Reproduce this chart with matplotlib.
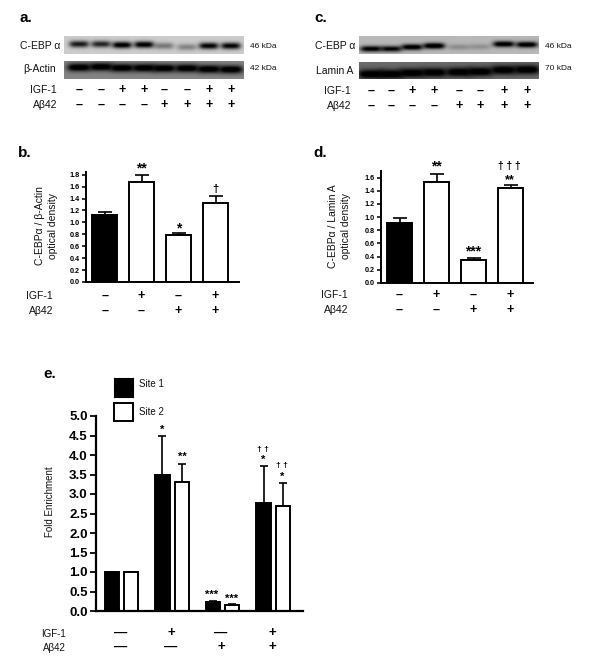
import matplotlib
matplotlib.use("Agg")
import matplotlib.pyplot as plt
import numpy as np

plt.rcParams['font.family'] = ['Liberation Sans', 'DejaVu Sans']

W = 600
H = 668

# blots: strength and height (0 top, 1 bottom) of each band
igf_lanes = ['–', '–', '+', '+', '–', '–', '+', '+']
abeta_lanes = ['–', '–', '–', '–', '+', '+', '+', '+']
a_cebp = [0.75, 0.7, 0.9, 0.9, 0.35, 0.3, 0.85, 0.85]
a_cebp_y = [0.45, 0.45, 0.5, 0.48, 0.55, 0.62, 0.55, 0.55]
a_actin = [1.0, 1.0, 1.0, 1.0, 1.0, 1.0, 1.0, 1.0]
a_actin_y = [0.35, 0.32, 0.38, 0.38, 0.4, 0.4, 0.45, 0.47]
c_cebp = [0.9, 0.85, 0.95, 1.0, 0.2, 0.18, 0.95, 0.95]
c_cebp_y = [0.72, 0.72, 0.62, 0.55, 0.62, 0.6, 0.45, 0.48]
c_lamin = [1.0, 1.0, 1.0, 1.0, 1.0, 1.0, 1.0, 1.0]
c_lamin_y = [0.72, 0.72, 0.65, 0.62, 0.6, 0.57, 0.47, 0.45]

# panel b
b_values = [1.12, 1.67, 0.78, 1.33]
b_errors = [0.055, 0.13, 0.04, 0.11]
# panel d
d_values = [0.915, 1.54, 0.345, 1.445]
d_errors = [0.07, 0.12, 0.03, 0.05]
# panel e
site1_values = [1.0, 3.49, 0.22, 2.78]
site1_errors = [0.0, 1.01, 0.03, 0.94]
site2_values = [1.0, 3.31, 0.15, 2.68]
site2_errors = [0.0, 0.47, 0.02, 0.61]

igf_groups = ['–', '+', '–', '+']
abeta_groups = ['–', '–', '+', '+']

fig = plt.figure(figsize=(W / 100, H / 100), dpi=100)


def px_axes(x0, x1, y_top, y_bottom):
    return fig.add_axes([x0 / W, 1 - y_bottom / H, (x1 - x0) / W, (y_bottom - y_top) / H])


def px_text(x, y, s, size=7, weight='normal', ha='center', rotation=0, color='#111111'):
    fig.text(x / W, 1 - y / H, s, fontsize=size, fontweight=weight, ha=ha, va='center',
             rotation=rotation, color=color, multialignment='center', linespacing=1.3)


def draw_blot(x0, x1, y_top, y_bottom, centers, strengths, heights, back, band_h, band_w):
    ax = px_axes(x0, x1, y_top, y_bottom)
    nx = int(x1 - x0) * 2
    ny = int(y_bottom - y_top) * 2
    xx, yy = np.meshgrid(np.linspace(x0, x1, nx), np.linspace(0, 1, ny))
    img = np.full((ny, nx), back, dtype=float)
    for c, s, h in zip(centers, strengths, heights):
        band = s * np.exp(-((xx - c) / band_w) ** 4 - ((yy - h) / band_h) ** 2)
        img = img * (1 - np.clip(band * 1.2, 0, 1))
    ax.imshow(img, cmap='gray', vmin=0, vmax=1, aspect='auto', interpolation='bilinear')
    ax.axis('off')


def draw_signs(centers, y1, y2, igf, abeta, size=9):
    for c, a, b in zip(centers, igf, abeta):
        px_text(c, y1, a, size=size, weight='bold', color='black')
        px_text(c, y2, b, size=size, weight='bold', color='black')


def style_axes(ax, ticks, fmt_size, lw=1.4):
    for side in ['top', 'right']:
        ax.spines[side].set_visible(False)
    ax.spines['left'].set_linewidth(lw)
    ax.spines['bottom'].set_linewidth(lw)
    ax.set_yticks(ticks)
    ax.set_yticklabels(['%.1f' % t for t in ticks], fontsize=fmt_size, fontweight='bold')
    ax.set_xticks([])
    ax.tick_params(axis='y', width=lw * 0.8, length=3, pad=1.5)
    ax.patch.set_alpha(0)


def draw_bars(box, ylim, ticks, xlim, values, errors):
    ax = px_axes(*box)
    x = np.arange(len(values))
    colors = ['black', 'white', 'white', 'white']
    ax.bar(x, values, width=0.68, color=colors, edgecolor='black', linewidth=1.4, zorder=2)
    ax.errorbar(x, values, yerr=[np.zeros(len(values)), errors], fmt='none', ecolor='black',
                elinewidth=1.2, capsize=5, capthick=1.2, zorder=1)
    ax.set_xlim(*xlim)
    ax.set_ylim(*ylim)
    style_axes(ax, ticks, 5.2)
    return ax


# a
lanes_a = [79, 101, 122, 144, 164, 187, 209, 231]
draw_blot(64, 244, 36, 54, lanes_a, a_cebp, a_cebp_y, 0.80, 0.19, 10)
draw_blot(64, 244, 61, 79, lanes_a, a_actin, a_actin_y, 0.52, 0.23, 12)
px_text(19, 18, 'a.', size=11, weight='bold', ha='left', color='black')
px_text(40, 46, 'C-EBP α', size=7.5)
px_text(40, 69, 'β-Actin', size=7.5)
px_text(250, 47, '46 kDa', size=6, ha='left')
px_text(250, 69, '42 kDa', size=6, ha='left')
px_text(57, 90, 'IGF-1', size=7.5, ha='right')
px_text(57, 105, 'Aβ42', size=7.5, ha='right')
draw_signs(lanes_a, 90, 105, igf_lanes, abeta_lanes)

# c
lanes_c = [371, 391, 412, 434, 459, 480, 504, 527]
draw_blot(359, 539, 36, 54, lanes_c, c_cebp, c_cebp_y, 0.72, 0.17, 11)
draw_blot(359, 539, 62, 79, lanes_c, c_lamin, c_lamin_y, 0.42, 0.28, 13)
px_text(314, 18, 'c.', size=11, weight='bold', ha='left', color='black')
px_text(335, 46, 'C-EBP α', size=7.5)
px_text(335, 71, 'Lamin A', size=7.5)
px_text(545, 46, '46 kDa', size=6, ha='left')
px_text(545, 69, '70 kDa', size=6, ha='left')
px_text(351, 91, 'IGF-1', size=7.5, ha='right')
px_text(351, 106, 'Aβ42', size=7.5, ha='right')
draw_signs(lanes_c, 91, 106, igf_lanes, abeta_lanes)

# b
ax_b = draw_bars((86, 239, 172, 282), (0, 1.845), np.arange(0, 1.81, 0.2), (-0.51, 3.63), b_values, b_errors)
px_text(18, 153, 'b.', size=11, weight='bold', ha='left', color='black')
px_text(46.5, 226, 'C-EBPα / β-Actin\noptical density', size=7.5, rotation=90)
px_text(53, 296, 'IGF-1', size=7.5, ha='right')
px_text(53, 311, 'Aβ42', size=7.5, ha='right')
draw_signs([105, 141.5, 178.5, 215.5], 296, 311, igf_groups, abeta_groups)
px_text(141, 168, '**', size=10, weight='bold', color='black')
px_text(179, 228, '*', size=10, weight='bold', color='black')
px_text(215, 189, '†', size=8, weight='bold', color='black')

# d
ax_d = draw_bars((381, 533, 171, 283), (0, 1.7), np.arange(0, 1.61, 0.2), (-0.51, 3.6), d_values, d_errors)
px_text(313, 153, 'd.', size=11, weight='bold', ha='left', color='black')
px_text(339.5, 226, 'C-EBPα / Lamin A\noptical density', size=7.5, rotation=90)
px_text(348, 295, 'IGF-1', size=7.5, ha='right')
px_text(348, 310, 'Aβ42', size=7.5, ha='right')
draw_signs([399.5, 436.5, 473.5, 510.5], 295, 310, igf_groups, abeta_groups)
px_text(436, 166, '**', size=10, weight='bold', color='black')
px_text(473, 251, '***', size=10, weight='bold', color='black')
px_text(510, 180, '**', size=9, weight='bold', color='black')
px_text(509, 166, '† † †', size=7.5, weight='bold', color='black')

# e
ax_e = px_axes(96, 303, 416, 611)
x = np.arange(4)
ax_e.bar(x - 0.19, site1_values, width=0.28, color='black', edgecolor='black', linewidth=1.4, zorder=2)
ax_e.bar(x + 0.19, site2_values, width=0.28, color='white', edgecolor='black', linewidth=1.4, zorder=2)
ax_e.errorbar(x - 0.19, site1_values, yerr=[np.zeros(4), site1_errors], fmt='none', ecolor='black',
              elinewidth=1.2, capsize=3, capthick=1.2, zorder=1)
ax_e.errorbar(x + 0.19, site2_values, yerr=[np.zeros(4), site2_errors], fmt='none', ecolor='black',
              elinewidth=1.2, capsize=3, capthick=1.2, zorder=1)
ax_e.set_xlim(-0.505, 3.59)
ax_e.set_ylim(0, 5.0)
style_axes(ax_e, np.arange(0, 5.01, 0.5), 9.5, lw=1.6)
ax_e.tick_params(axis='y', length=4, pad=2)

px_text(43, 374, 'e.', size=11, weight='bold', ha='left', color='black')
px_text(50, 502, 'Fold Enrichment', size=7, rotation=90)
px_text(66, 634, 'IGF-1', size=7, ha='right')
px_text(66, 648, 'Aβ42', size=7, ha='right')
draw_signs([121, 171, 221, 272], 633, 647, ['—', '+', '—', '+'], ['—', '—', '+', '+'], size=9.5)

px_text(162, 430, '*', size=8, weight='bold', color='black')
px_text(182, 457, '**', size=8, weight='bold', color='black')
px_text(212, 595, '***', size=8, weight='bold', color='black')
px_text(232, 599, '***', size=8, weight='bold', color='black')
px_text(263, 460, '*', size=8, weight='bold', color='black')
px_text(263, 449, '† †', size=6, weight='bold', color='black')
px_text(282, 477, '*', size=8, weight='bold', color='black')
px_text(282, 466, '† †', size=6, weight='bold', color='black')

# legend boxes
leg1 = px_axes(114, 133, 378, 397)
leg1.set_xticks([]); leg1.set_yticks([]); leg1.set_facecolor('black')
leg2 = px_axes(114, 133, 403, 421)
leg2.set_xticks([]); leg2.set_yticks([]); leg2.set_facecolor('white')
for sp in leg2.spines.values():
    sp.set_linewidth(1.4)
px_text(139, 384, 'Site 1', size=7, ha='left')
px_text(139, 412, 'Site 2', size=7, ha='left')

fig.savefig('out.png', dpi=100)
